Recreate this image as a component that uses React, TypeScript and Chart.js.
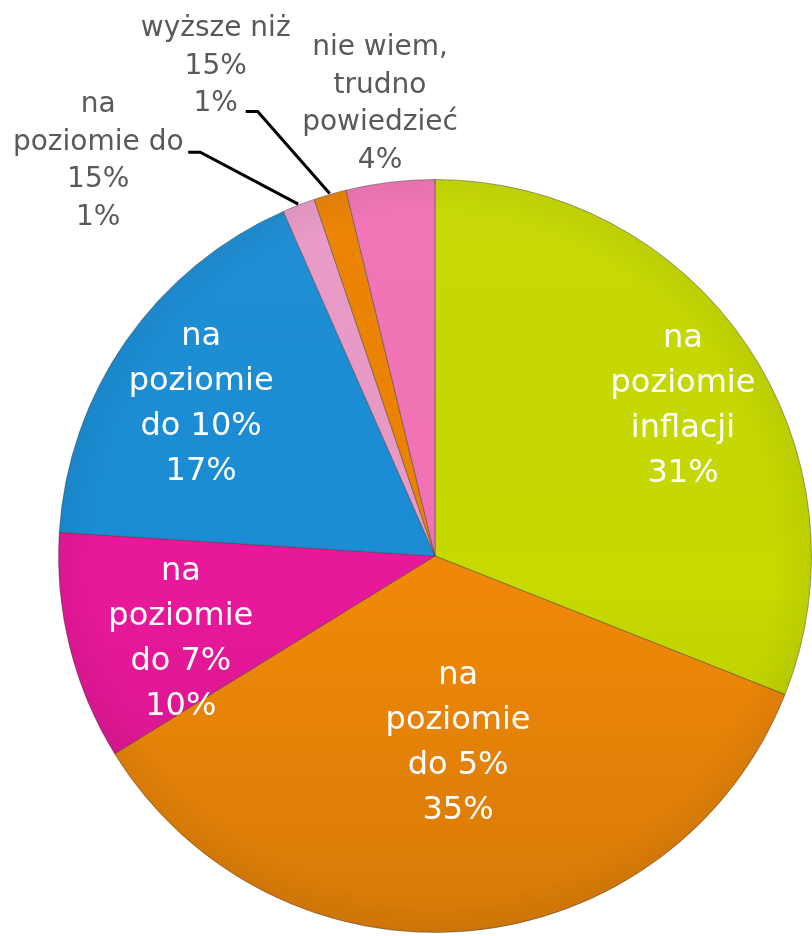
import React, { useEffect, useRef } from "react";
import { Chart, registerables } from "chart.js";

Chart.register(...registerables);

// ---- data ----
const categories: string[][] = [
  ["na", "poziomie", "inflacji"],
  ["na", "poziomie", "do 5%"],
  ["na", "poziomie", "do 7%"],
  ["na", "poziomie", "do 10%"],
  ["na", "poziomie do", "15%"],
  ["wyższe niż", "15%"],
  ["nie wiem,", "trudno", "powiedzieć"],
];
const values: number[] = [31, 35.2, 9.8, 17.4, 1.4, 1.4, 3.8];
const percentLabels: string[] = ["31%", "35%", "10%", "17%", "1%", "1%", "4%"];
const colors: string[] = [
  "#c6d900",
  "#ef8808",
  "#e8189a",
  "#1b8dd5",
  "#e99ac6",
  "#ec8200",
  "#f273b5",
];

// ---- label layout (styles) ----
const insideLabel: boolean[] = [true, true, true, true, false, false, false];
const insideRadius: number[] = [0.77, 0.5, 0.71, 0.74, 0, 0, 0];
const insideAngleShift: number[] = [3, -2, -4, -2, 0, 0, 0];
const outerOffset: number[][] = [[0, 0], [0, 0], [0, 0], [0, 0], [-200, -43], [-114, -127], [-10, -77]];
const leaderStart: (number[] | null)[] = [null, null, null, null, [90, -9], [30, 45], null];
const leaderElbow: (number[] | null)[] = [null, null, null, null, [102, -9], [42, 45], null];

const labelPlugin = {
  id: "pieLabels",
  afterDatasetsDraw(chart: any) {
    const ctx = chart.ctx as CanvasRenderingContext2D;
    const meta = chart.getDatasetMeta(0);
    const first = meta.data[0];
    if (!first) return;
    const cx = first.x;
    const cy = first.y;
    const R = first.outerRadius;

    // subtle shading: darker toward the bottom and the rim
    ctx.save();
    ctx.beginPath();
    ctx.arc(cx, cy, R, 0, Math.PI * 2);
    ctx.clip();
    const lg = ctx.createLinearGradient(0, cy - R, 0, cy + R);
    lg.addColorStop(0, "rgba(255,255,255,0.03)");
    lg.addColorStop(0.55, "rgba(0,0,0,0)");
    lg.addColorStop(1, "rgba(0,0,0,0.10)");
    ctx.fillStyle = lg;
    ctx.fillRect(cx - R, cy - R, 2 * R, 2 * R);
    const g = ctx.createRadialGradient(cx, cy, R * 0.9, cx, cy, R);
    g.addColorStop(0, "rgba(0,0,0,0)");
    g.addColorStop(1, "rgba(0,0,0,0.05)");
    ctx.fillStyle = g;
    ctx.fillRect(cx - R, cy - R, 2 * R, 2 * R);
    ctx.restore();

    meta.data.forEach((arc: any, i: number) => {
      const mid = (arc.startAngle + arc.endAngle) / 2;
      const lines = [...categories[i], percentLabels[i]];
      ctx.save();
      ctx.textAlign = "center";
      ctx.textBaseline = "middle";
      if (insideLabel[i]) {
        const a = mid + (insideAngleShift[i] * Math.PI) / 180;
        const r = R * insideRadius[i];
        const lx = cx + Math.cos(a) * r;
        const ly = cy + Math.sin(a) * r;
        const lh = 45;
        ctx.font = "32px 'DejaVu Sans'";
        ctx.fillStyle = "#ffffff";
        lines.forEach((t, k) => {
          ctx.fillText(t, lx, ly + (k - (lines.length - 1) / 2) * lh);
        });
      } else {
        const px = cx + Math.cos(mid) * (R + 1);
        const py = cy + Math.sin(mid) * (R + 1);
        const bx = px + outerOffset[i][0];
        const by = py + outerOffset[i][1];
        const lh = 37.5;
        ctx.font = "28px 'DejaVu Sans'";
        ctx.fillStyle = "#595959";
        lines.forEach((t, k) => {
          ctx.fillText(t, bx, by + (k - (lines.length - 1) / 2) * lh);
        });
        const s = leaderStart[i];
        const e = leaderElbow[i];
        if (s && e) {
          ctx.beginPath();
          ctx.moveTo(bx + s[0], by + s[1]);
          ctx.lineTo(bx + e[0], by + e[1]);
          ctx.lineTo(px, py);
          ctx.strokeStyle = "#000000";
          ctx.lineWidth = 3;
          ctx.stroke();
        }
      }
      ctx.restore();
    });
  },
};

export default function App() {
  const ref = useRef<HTMLCanvasElement | null>(null);
  useEffect(() => {
    if (!ref.current) return;
    const chart = new Chart(ref.current, {
      type: "pie",
      data: {
        labels: categories.map((c) => c.join(" ")),
        datasets: [
          {
            data: values,
            backgroundColor: colors,
            borderColor: "rgba(60,60,60,0.45)",
            borderWidth: 1,
          },
        ],
      },
      options: {
        responsive: false,
        animation: false,
        layout: { padding: { left: 58, right: 0, top: 179, bottom: 3 } },
        plugins: {
          legend: { display: false },
          tooltip: { enabled: false },
        },
      },
      plugins: [labelPlugin],
    } as any);
    return () => chart.destroy();
  }, []);
  return (
    <div style={{ position: "absolute", left: 0, top: 0, width: 812, height: 936, background: "#fff" }}>
      <canvas ref={ref} width={812} height={936} style={{ display: "block" }} />
    </div>
  );
}
